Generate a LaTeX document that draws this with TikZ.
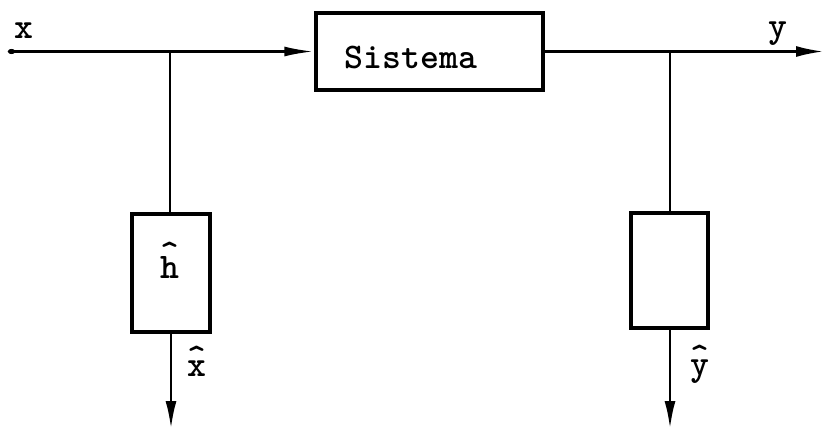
\documentclass[tikz,border=0pt]{standalone}
\usetikzlibrary{arrows.meta}
\begin{document}
\begin{tikzpicture}[x=1pt,y=-1pt, line width=2.8pt,
  box/.style={draw, line width=3.5pt, inner sep=0pt},
  lbl/.style={font=\ttfamily\fontseries{b}\fontsize{36}{40}\selectfont, inner sep=0pt, anchor=base},
  hlbl/.style={font=\ttfamily\fontseries{b}\fontsize{36}{8}\selectfont, inner sep=0pt, anchor=south, align=center},
  tip/.style={-{Latex[length=28pt,width=11pt]}}]
\useasboundingbox (0,0) rectangle (825,431);
% blocks
\node[box, minimum width=227pt, minimum height=77pt] (sys) at (429.5,51.5) {};
\node[lbl] (systxt) at (411,68) {Sistema};
\node[box, minimum width=78pt, minimum height=118pt] (hb) at (171,273) {};
\node[hlbl] (htxt) at (170,280) {\textasciicircum\\[-9pt]h};
\node[box, minimum width=77pt, minimum height=115pt] (gb) at (669.5,270.5) {};
% free ends and junctions
\coordinate (in) at (8,51.5);
\coordinate (out) at (824,51.5);
\coordinate (j1) at (170,51.5);
\coordinate (j2) at (670,51.5);
\coordinate (xo) at (171,429);
\coordinate (yo) at (670,429);
% connectors
\draw[{Circle[length=7pt,width=5pt]}-{Latex[length=30pt,width=10pt]}] (in) -- (sys.west);
\draw[tip] (sys.east) -- (out);
\draw (j1) -- (j1 |- hb.north);
\draw (j2) -- (j2 |- gb.north);
\draw[tip] (hb.south) -- (xo);
\draw[tip] (yo |- gb.south) -- (yo);
% labels
\node[lbl] (xl) at (24,38) {x};
\node[lbl] (yl) at (778,37) {y};
\node[hlbl] (xh) at (197,378) {\textasciicircum\\[-9pt]x};
\node[hlbl] (yh) at (700,385) {\textasciicircum\\[-9pt]y};
\end{tikzpicture}
\end{document}
